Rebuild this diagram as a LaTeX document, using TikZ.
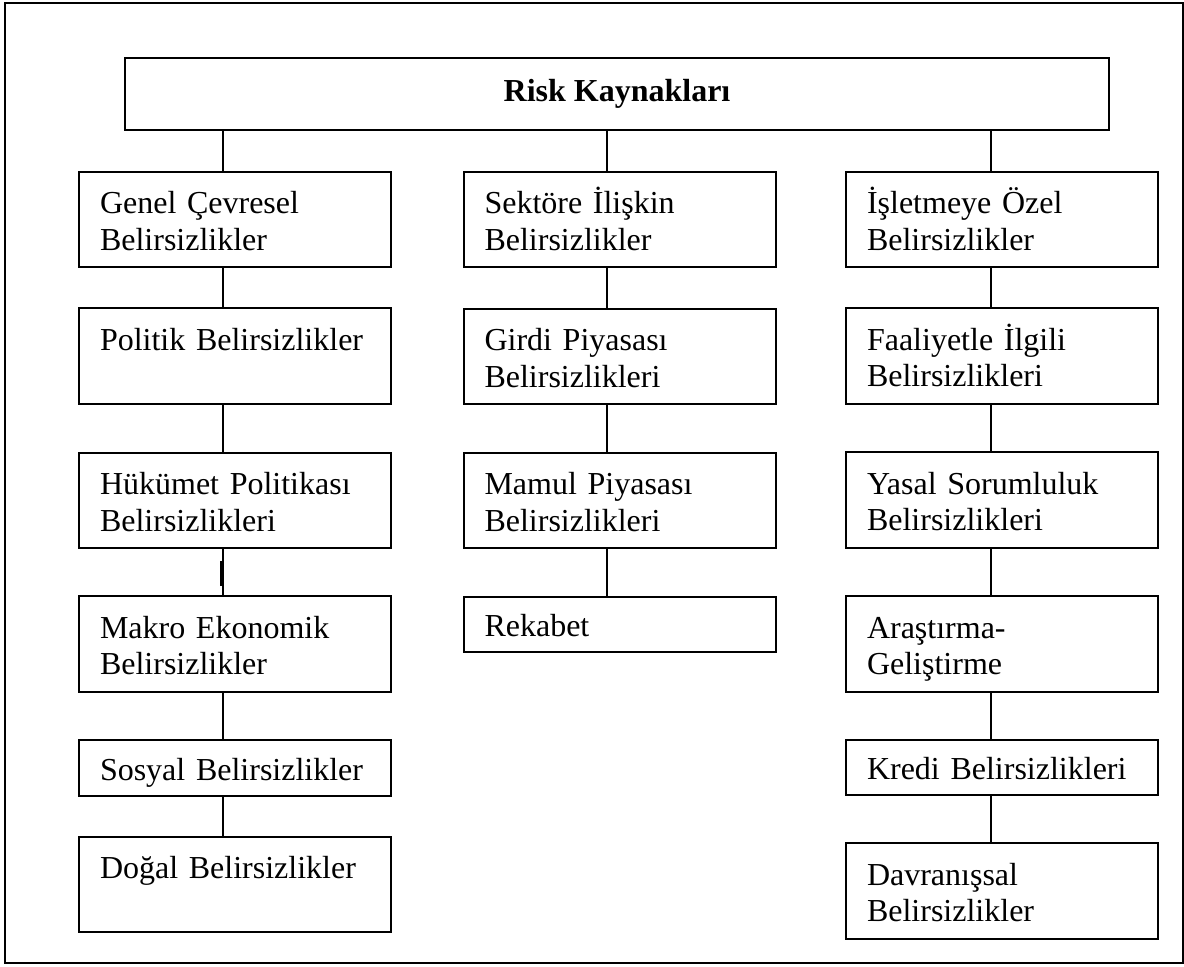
\documentclass[tikz,border=0pt]{standalone}
\usepackage{fontspec}
\setmainfont{Liberation Serif}
\usetikzlibrary{positioning}
\newcommand{\topgap}{\rule{0pt}{13.5pt}}

\begin{document}
\begin{tikzpicture}[x=0.375pt,y=-0.375pt,every node/.append style={align=left},box/.style={draw, line width=0.75pt, inner xsep=7.875pt, inner ysep=1pt, text width=101.25pt, font=\fontsize{12}{13.8}\selectfont},tall/.style={box, minimum height=35.8pt},low/.style={box, minimum height=20.8pt},conn/.style={line width=0.6pt}]
    \useasboundingbox (0,0) rectangle (1184,966);
    \draw[line width=0.75pt] (5,2.5) rectangle (1183,963);
    \node [draw, line width=0.75pt, minimum width=369pt, minimum height=27pt, align=center, font=\fontsize{12}{13.8}\selectfont\bfseries] (RK) at (617,94) {Risk Kaynakları};
    % genel cevresel
    \node [tall] (GC) at (235,219.5) {\topgap Genel Çevresel\\Belirsizlikler\strut};
    \node [tall] (PB) at (235,356)   {\topgap Politik Belirsizlikler\\\strut};
    \node [tall] (HP) at (235,500.5) {\topgap Hükümet Politikası\\Belirsizlikleri\strut};
    \node [tall] (ME) at (235,644)   {\topgap Makro Ekonomik\\Belirsizlikler\strut};
    \node [low]  (SB) at (235,768)   {\topgap Sosyal Belirsizlikler\strut};
    \node [tall] (DB) at (235,884.5) {\topgap Doğal Belirsizlikler\\\strut};
    % sektore iliskin
    \node [tall] (SI) at (619.5,219.5) {\topgap Sektöre İlişkin\\Belirsizlikler\strut};
    \node [tall] (GP) at (619.5,356.5) {\topgap Girdi Piyasası\\Belirsizlikleri\strut};
    \node [tall] (MP) at (619.5,500.5) {\topgap Mamul Piyasası\\Belirsizlikleri\strut};
    \node [low]  (RB) at (619.5,624.5) {\topgap Rekabet\strut};
    % isletmeye ozel
    \node [tall] (IO) at (1002,219.5) {\topgap İşletmeye Özel\\Belirsizlikler\strut};
    \node [tall] (FI) at (1002,356)   {\topgap Faaliyetle İlgili\\Belirsizlikleri\strut};
    \node [tall] (YS) at (1002,500)   {\topgap Yasal Sorumluluk\\Belirsizlikleri\strut};
    \node [tall] (AG) at (1002,644)   {\topgap Araştırma-\\Geliştirme\strut};
    \node [low]  (KB) at (1002,767.5) {\topgap Kredi Belirsizlikleri\strut};
    \node [tall] (DV) at (1002,891)   {\topgap Davranışsal\\Belirsizlikler\strut};
    \path[conn] ([xshift=-4.5pt]GC.north |- RK.south) edge ([xshift=-4.5pt]GC.north);
    \path[conn] ([xshift=-4.7pt]SI.north |- RK.south) edge ([xshift=-4.7pt]SI.north);
    \path[conn] ([xshift=-4.1pt]IO.north |- RK.south) edge ([xshift=-4.1pt]IO.north);
    \path[conn] ([xshift=-4.5pt]GC.south) edge ([xshift=-4.5pt]PB.north);
    \path[conn] ([xshift=-4.5pt]PB.south) edge ([xshift=-4.5pt]HP.north);
    \path[conn] ([xshift=-4.5pt]HP.south) edge ([xshift=-4.5pt]ME.north);
    \path[conn] ([xshift=-4.5pt]ME.south) edge ([xshift=-4.5pt]SB.north);
    \path[conn] ([xshift=-4.5pt]SB.south) edge ([xshift=-4.5pt]DB.north);
    \path[conn] ([xshift=-4.7pt]SI.south) edge ([xshift=-4.7pt]GP.north);
    \path[conn] ([xshift=-4.7pt]GP.south) edge ([xshift=-4.7pt]MP.north);
    \path[conn] ([xshift=-4.7pt]MP.south) edge ([xshift=-4.7pt]RB.north);
    \path[conn] ([xshift=-4.1pt]IO.south) edge ([xshift=-4.1pt]FI.north);
    \path[conn] ([xshift=-4.1pt]FI.south) edge ([xshift=-4.1pt]YS.north);
    \path[conn] ([xshift=-4.1pt]YS.south) edge ([xshift=-4.1pt]AG.north);
    \path[conn] ([xshift=-4.1pt]AG.south) edge ([xshift=-4.1pt]KB.north);
    \path[conn] ([xshift=-4.1pt]KB.south) edge ([xshift=-4.1pt]DV.north);
    \draw[line width=1.1pt] ([xshift=-5.1pt]HP.south) ++(0,12) -- ++(0,25);
\end{tikzpicture}
\end{document}
